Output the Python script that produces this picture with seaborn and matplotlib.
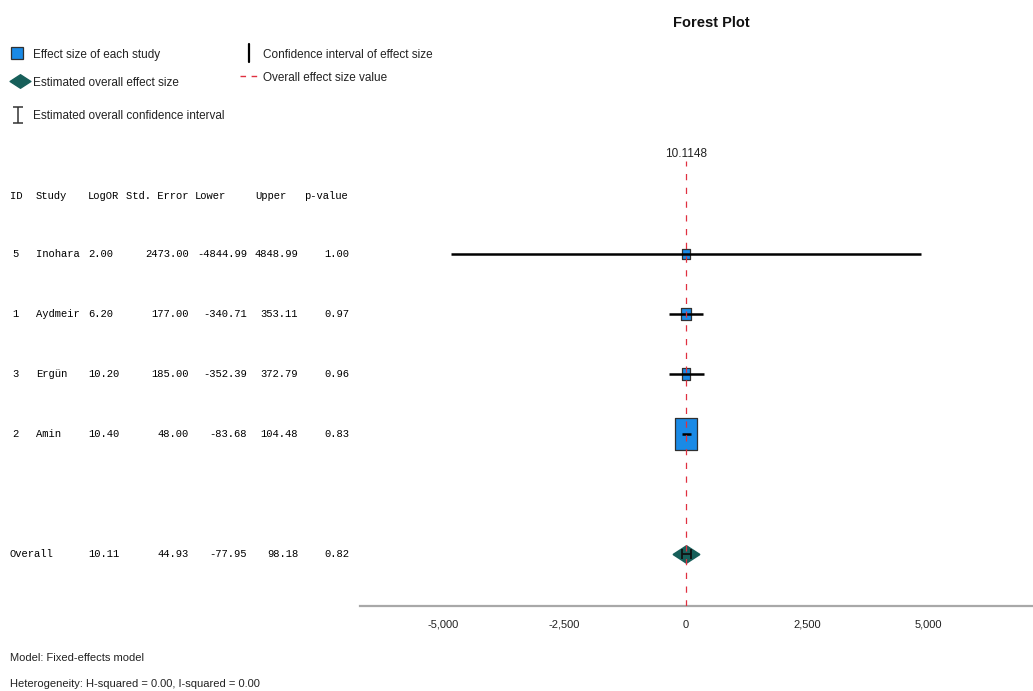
import numpy as np
import seaborn as sns
import matplotlib.pyplot as plt
from matplotlib.path import Path
from matplotlib.ticker import FuncFormatter
from matplotlib.transforms import blended_transform_factory

# study data (rows in plotted order)
ids = ["5", "1", "3", "2"]
studies = ["Inohara", "Aydmeir", "Ergün", "Amin"]
log_or = [2.00, 6.20, 10.20, 10.40]
std_err = [2473.00, 177.00, 185.00, 48.00]
lower = [-4844.99, -340.71, -352.39, -83.68]
upper = [4848.99, 353.11, 372.79, 104.48]
p_values = [1.00, 0.97, 0.96, 0.83]

overall_es = 10.1148
overall_se = 44.93
overall_lower = -77.95
overall_upper = 98.18
overall_p = 0.82

x_ticks = [-5000, -2500, 0, 2500, 5000]

BLUE = "#1a8ae6"
TEAL = "#175f5a"
RED = "#e03040"
SANS = ["Liberation Sans", "DejaVu Sans"]
MONO = ["Liberation Mono", "DejaVu Sans Mono"]


def box_marker(w, h):
    return Path([(-w, -h), (w, -h), (w, h), (-w, h), (-w, -h)],
                [Path.MOVETO, Path.LINETO, Path.LINETO, Path.LINETO,
                 Path.CLOSEPOLY])


diamond = Path([(-1, 0), (0, 0.65), (1, 0), (0, -0.65), (-1, 0)],
               [Path.MOVETO, Path.LINETO, Path.LINETO, Path.LINETO,
                Path.CLOSEPOLY])


def main():
    sns.set_style("white")
    plt.rcParams["font.family"] = SANS
    plt.rcParams["axes.unicode_minus"] = False

    fig = plt.figure(figsize=(10.33, 6.91), dpi=100)
    ax = fig.add_axes([360 / 1033, 85 / 691, 673 / 1033, 466 / 691])

    rows = np.arange(1, len(studies) + 1)
    overall_row = len(studies) + 2

    # study boxes sized by inverse-variance weight
    weights = 1 / np.array(std_err) ** 2
    rel = weights / weights.max()
    for y, x, r in zip(rows, log_or, rel):
        w_px = 8 + 14 * r
        h_px = 10 + 22 * r
        ax.plot([x], [y], marker=box_marker(w_px, h_px),
                markersize=max(w_px, h_px) * 0.72, color=BLUE,
                markeredgecolor="#303030", markeredgewidth=0.9,
                linestyle="none", zorder=3)
    ax.hlines(rows, lower, upper, color="black", lw=1.8, zorder=4)

    # overall diamond and its confidence interval
    sns.scatterplot(x=[overall_es], y=[overall_row], marker=diamond,
                    s=18.5 ** 2, color=TEAL, edgecolor=TEAL, ax=ax,
                    zorder=3)
    ax.errorbar([overall_es], [overall_row],
                xerr=[[overall_es - overall_lower],
                      [overall_upper - overall_es]],
                fmt="none", ecolor="#111111", elinewidth=1.3, capsize=3.5,
                capthick=1.3, zorder=4)

    ax.set_xlim(-6720, 7160)
    ax.set_ylim(6.87, -0.9)
    ax.plot([overall_es, overall_es], [6.87, -0.55], color=RED, lw=0.9,
            dashes=(5, 6), zorder=5)
    ax.text(overall_es, -0.66, f"{overall_es:.4f}", ha="center",
            va="center", fontsize=8.5, color="#222222")

    for side in ["top", "left", "right"]:
        ax.spines[side].set_visible(False)
    ax.spines["bottom"].set_color("#a8a8a8")
    ax.spines["bottom"].set_linewidth(1.6)
    ax.set_yticks([])
    ax.set_xticks(x_ticks)
    ax.xaxis.set_major_formatter(FuncFormatter(lambda v, p: f"{v:,.0f}"))
    ax.tick_params(axis="x", length=0, pad=10, labelsize=8,
                   labelcolor="#222222")

    # table on the left, aligned with the plot rows
    tr = blended_transform_factory(fig.transFigure, ax.transData)

    def col(px, y, s, ha="left"):
        fig.text(px / 1033, y, s, transform=tr, ha=ha, va="center",
                 family=MONO, fontsize=7.6, color="black")

    header_y = 0.03
    for px, s in [(10, "ID"), (36, "Study"), (88, "LogOR"),
                  (126, "Std. Error"), (195, "Lower"), (255, "Upper"),
                  (304, "p-value")]:
        col(px, header_y, s)
    for y, i, st, lo, se, l, u, p in zip(rows, ids, studies, log_or,
                                         std_err, lower, upper, p_values):
        col(12, y, i)
        col(36, y, st)
        col(88, y, f"{lo:.2f}")
        col(189, y, f"{se:.2f}", "right")
        col(247, y, f"{l:.2f}", "right")
        col(298, y, f"{u:.2f}", "right")
        col(349, y, f"{p:.2f}", "right")
    col(10, overall_row, "Overall")
    col(88, overall_row, f"{overall_es:.2f}")
    col(189, overall_row, f"{overall_se:.2f}", "right")
    col(247, overall_row, f"{overall_lower:.2f}", "right")
    col(298, overall_row, f"{overall_upper:.2f}", "right")
    col(349, overall_row, f"{overall_p:.2f}", "right")

    # legend drawn in pixel coordinates
    lg = fig.add_axes([0, 0, 1, 1], zorder=-1)
    lg.set_xlim(0, 1033)
    lg.set_ylim(691, 0)
    lg.axis("off")
    lg.plot([17], [53], marker="s", markersize=8.5, color=BLUE,
            markeredgecolor="#303030", markeredgewidth=0.9)
    lg.plot([20], [81], marker=diamond, markersize=15, color=TEAL)
    lg.errorbar([18], [115], yerr=[[8], [8]], fmt="none", ecolor="#333333",
                elinewidth=1.1, capsize=3.5, capthick=1.1)
    lg.plot([249, 249], [44, 62], color="black", lw=1.6)
    lg.plot([240, 258], [76, 76], color=RED, lw=1.0, dashes=(4, 4))
    items = [(33, 54.5, "Effect size of each study"),
             (33, 83, "Estimated overall effect size"),
             (33, 116, "Estimated overall confidence interval"),
             (263, 55, "Confidence interval of effect size"),
             (263, 78, "Overall effect size value")]
    for px, py, s in items:
        lg.text(px, py, s, ha="left", va="center", fontsize=8.5,
                color="#222222")

    fig.text(711 / 1033, 1 - 23 / 691, "Forest Plot", ha="center",
             va="center", fontsize=10.5, fontweight="bold", color="#111111")
    fig.text(10 / 1033, 1 - 658 / 691, "Model: Fixed-effects model",
             ha="left", va="center", fontsize=8, color="#222222")
    fig.text(10 / 1033, 1 - 684 / 691,
             "Heterogeneity: H-squared = 0.00, I-squared = 0.00",
             ha="left", va="center", fontsize=8, color="#222222")

    fig.savefig("out.png", dpi=100)


if __name__ == "__main__":
    main()
